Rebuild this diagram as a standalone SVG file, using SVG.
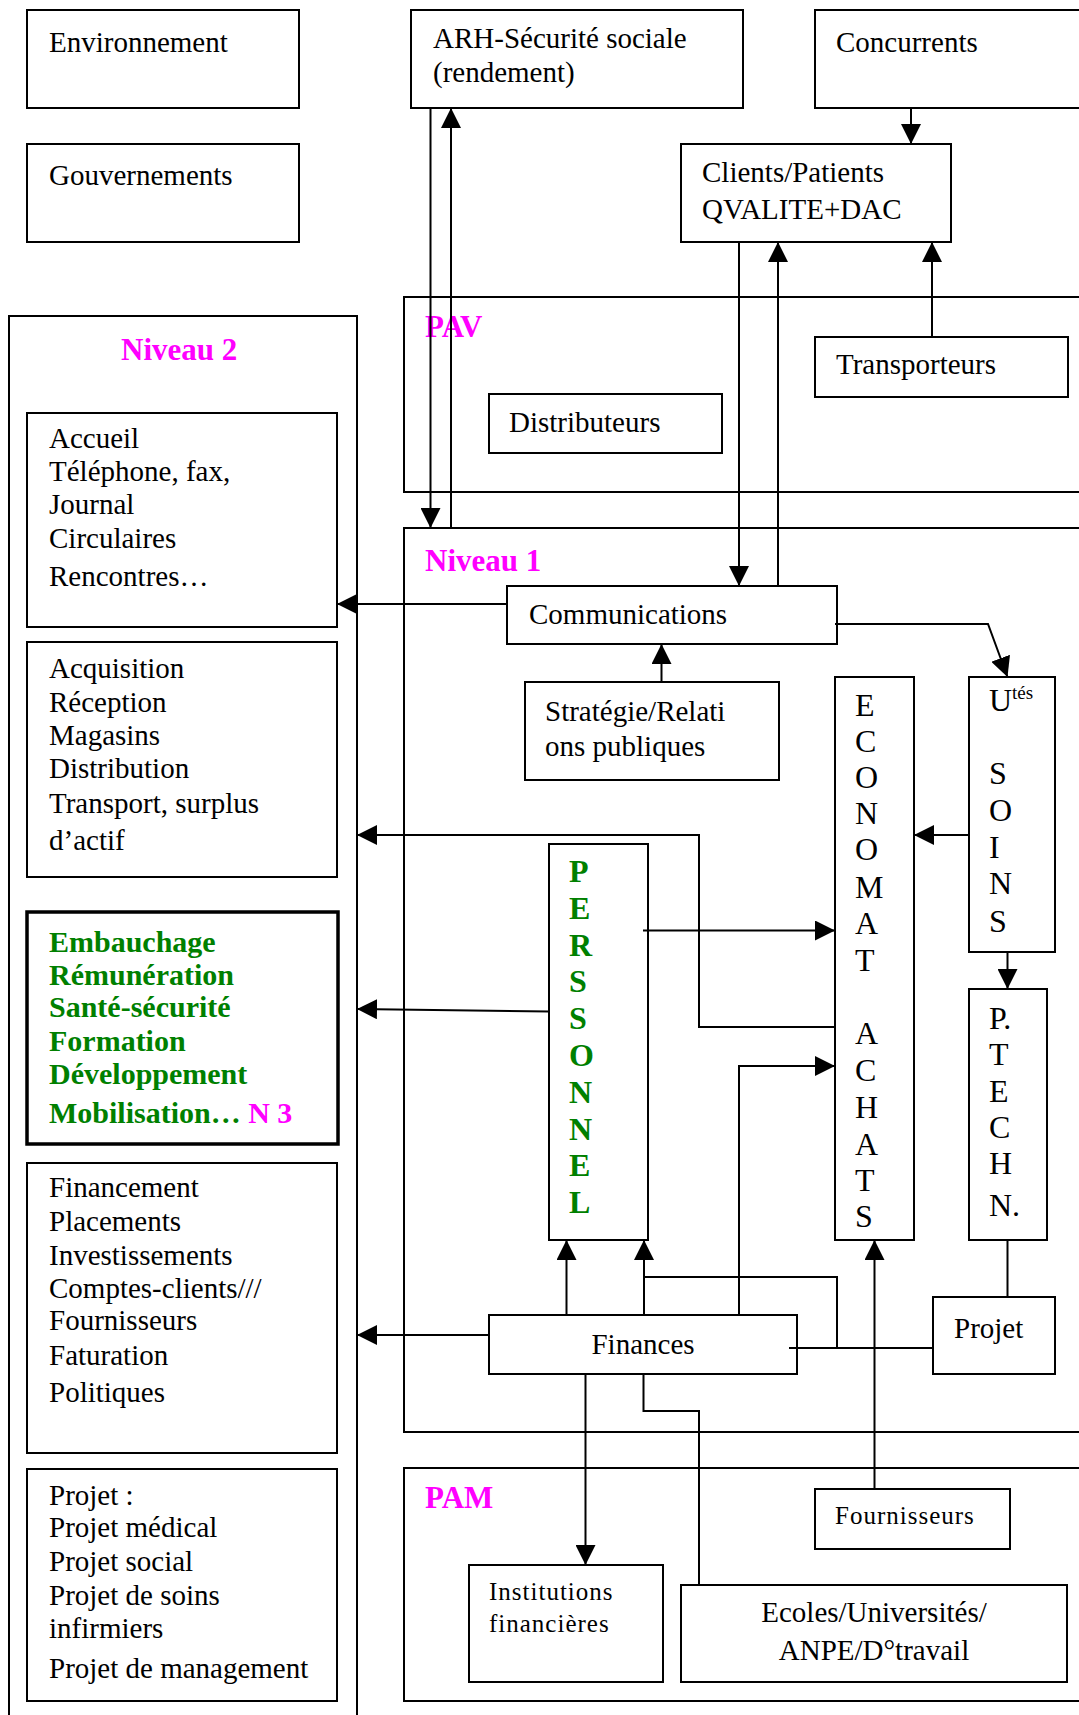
<svg xmlns="http://www.w3.org/2000/svg" width="1079" height="1715" viewBox="0 0 1079 1715">
<style>
  .box { fill: #ffffff; stroke: #000000; stroke-width: 2; }
  .cont { fill: none; stroke: #000000; stroke-width: 2; }
  .thick { fill: #ffffff; stroke: #000000; stroke-width: 3.5; }
  .t { font-family: "Liberation Serif", "Times New Roman", serif; font-size: 29px; fill: #000000; }
  .ts { font-family: "Liberation Serif", "Times New Roman", serif; font-size: 25px; letter-spacing: 1px; fill: #000000; }
  .v { font-family: "Liberation Serif", "Times New Roman", serif; font-size: 32px; fill: #000000; }
  .vg { font-family: "Liberation Serif", "Times New Roman", serif; font-size: 32px; font-weight: bold; fill: #008000; }
  .g { font-family: "Liberation Serif", "Times New Roman", serif; font-size: 30px; font-weight: bold; fill: #008000; }
  .m { font-family: "Liberation Serif", "Times New Roman", serif; font-size: 31px; font-weight: bold; fill: #ff00ff; }
  .sup { font-family: "Liberation Serif", "Times New Roman", serif; font-size: 19px; fill: #000000; }
  .c { fill: none; stroke: #000000; stroke-width: 2; }
  .a { fill: none; stroke: #000000; stroke-width: 2; marker-end: url(#arr); }
</style>
<defs>
  <marker id="arr" markerUnits="userSpaceOnUse" markerWidth="20" markerHeight="20" refX="20" refY="10" orient="auto">
    <path d="M0,0 L20,10 L0,20 z" fill="#000000"/>
  </marker>
</defs>
<rect width="1079" height="1715" fill="#ffffff"/>

<!-- containers -->
<g id="niveau2">
  <rect class="cont" x="9" y="316" width="348" height="1420"/>
  <text class="m" x="121" y="360">Niveau 2</text>
</g>
<g id="pav">
  <rect class="cont" x="404" y="297" width="700" height="195"/>
  <text class="m" x="425" y="337">PAV</text>
</g>
<g id="niveau1">
  <rect class="cont" x="404" y="528" width="700" height="904"/>
  <text class="m" x="425" y="571">Niveau 1</text>
</g>
<g id="pam">
  <rect class="cont" x="404" y="1468" width="700" height="233"/>
  <text class="m" x="425" y="1508">PAM</text>
</g>

<!-- top nodes -->
<g id="environnement">
  <rect class="box" x="27" y="10" width="272" height="98"/>
  <text class="t" x="49" y="52">Environnement</text>
</g>
<g id="gouvernements">
  <rect class="box" x="27" y="144" width="272" height="98"/>
  <text class="t" x="49" y="185">Gouvernements</text>
</g>
<g id="arh">
  <rect class="box" x="411" y="10" width="332" height="98"/>
  <text class="t" x="433" y="48">ARH-Sécurité sociale</text>
  <text class="t" x="433" y="82">(rendement)</text>
</g>
<g id="concurrents">
  <rect class="box" x="815" y="10" width="300" height="98"/>
  <text class="t" x="836" y="52">Concurrents</text>
</g>
<g id="clients">
  <rect class="box" x="681" y="144" width="270" height="98"/>
  <text class="t" x="702" y="182">Clients/Patients</text>
  <text class="t" x="702" y="219">QVALITE+DAC</text>
</g>
<g id="distributeurs">
  <rect class="box" x="489" y="394" width="233" height="59"/>
  <text class="t" x="509" y="432">Distributeurs</text>
</g>
<g id="transporteurs">
  <rect class="box" x="815" y="337" width="253" height="60"/>
  <text class="t" x="836" y="374">Transporteurs</text>
</g>

<!-- Niveau 2 nodes -->
<g id="accueil">
  <rect class="box" x="27" y="413" width="310" height="214"/>
  <text class="t" x="49" y="448">Accueil</text>
  <text class="t" x="49" y="481">Téléphone, fax,</text>
  <text class="t" x="49" y="514">Journal</text>
  <text class="t" x="49" y="548">Circulaires</text>
  <text class="t" x="49" y="586">Rencontres…</text>
</g>
<g id="acquisition">
  <rect class="box" x="27" y="642" width="310" height="235"/>
  <text class="t" x="49" y="678">Acquisition</text>
  <text class="t" x="49" y="712">Réception</text>
  <text class="t" x="49" y="745">Magasins</text>
  <text class="t" x="49" y="778">Distribution</text>
  <text class="t" x="49" y="813">Transport, surplus</text>
  <text class="t" x="49" y="850">d’actif</text>
</g>
<g id="embauchage">
  <rect class="thick" x="27" y="912" width="311" height="232"/>
  <text class="g" x="49" y="952">Embauchage</text>
  <text class="g" x="49" y="985">Rémunération</text>
  <text class="g" x="49" y="1017">Santé-sécurité</text>
  <text class="g" x="49" y="1051">Formation</text>
  <text class="g" x="49" y="1084">Développement</text>
  <text class="g" x="49" y="1123">Mobilisation… <tspan fill="#ff00ff">N 3</tspan></text>
</g>
<g id="financement">
  <rect class="box" x="27" y="1163" width="310" height="290"/>
  <text class="t" x="49" y="1197">Financement</text>
  <text class="t" x="49" y="1231">Placements</text>
  <text class="t" x="49" y="1265">Investissements</text>
  <text class="t" x="49" y="1298">Comptes-clients///</text>
  <text class="t" x="49" y="1330">Fournisseurs</text>
  <text class="t" x="49" y="1365">Faturation</text>
  <text class="t" x="49" y="1402">Politiques</text>
</g>
<g id="projets">
  <rect class="box" x="27" y="1469" width="310" height="232"/>
  <text class="t" x="49" y="1505">Projet :</text>
  <text class="t" x="49" y="1537">Projet médical</text>
  <text class="t" x="49" y="1571">Projet social</text>
  <text class="t" x="49" y="1605">Projet de soins</text>
  <text class="t" x="49" y="1638">infirmiers</text>
  <text class="t" x="49" y="1678">Projet de management</text>
</g>

<!-- Niveau 1 nodes -->
<g id="communications">
  <rect class="box" x="507" y="586" width="330" height="58"/>
  <text class="t" x="529" y="624">Communications</text>
</g>
<g id="strategie">
  <rect class="box" x="525" y="682" width="254" height="98"/>
  <text class="t" x="545" y="721">Stratégie/Relati</text>
  <text class="t" x="545" y="756">ons publiques</text>
</g>
<g id="personnel">
  <rect class="box" x="549" y="844" width="99" height="396"/>
  <text class="vg" x="569" y="882">P</text>
  <text class="vg" x="569" y="919">E</text>
  <text class="vg" x="569" y="956">R</text>
  <text class="vg" x="569" y="992">S</text>
  <text class="vg" x="569" y="1029">S</text>
  <text class="vg" x="569" y="1066">O</text>
  <text class="vg" x="569" y="1103">N</text>
  <text class="vg" x="569" y="1140">N</text>
  <text class="vg" x="569" y="1176">E</text>
  <text class="vg" x="569" y="1213">L</text>
</g>
<g id="economat">
  <rect class="box" x="835" y="677" width="79" height="563"/>
  <text class="v" x="855" y="716">E</text>
  <text class="v" x="855" y="752">C</text>
  <text class="v" x="855" y="788">O</text>
  <text class="v" x="855" y="824">N</text>
  <text class="v" x="855" y="860">O</text>
  <text class="v" x="855" y="898">M</text>
  <text class="v" x="855" y="934">A</text>
  <text class="v" x="855" y="971">T</text>
  <text class="v" x="855" y="1044">A</text>
  <text class="v" x="855" y="1081">C</text>
  <text class="v" x="855" y="1118">H</text>
  <text class="v" x="855" y="1155">A</text>
  <text class="v" x="855" y="1191">T</text>
  <text class="v" x="855" y="1227">S</text>
</g>
<g id="soins">
  <rect class="box" x="969" y="677" width="86" height="275"/>
  <text class="v" x="989" y="711">U</text>
  <text class="sup" x="1012" y="699">tés</text>
  <text class="v" x="989" y="784">S</text>
  <text class="v" x="989" y="821">O</text>
  <text class="v" x="989" y="858">I</text>
  <text class="v" x="989" y="894">N</text>
  <text class="v" x="989" y="932">S</text>
</g>
<g id="ptechn">
  <rect class="box" x="969" y="989" width="78" height="251"/>
  <text class="v" x="989" y="1029">P.</text>
  <text class="v" x="989" y="1065">T</text>
  <text class="v" x="989" y="1102">E</text>
  <text class="v" x="989" y="1138">C</text>
  <text class="v" x="989" y="1174">H</text>
  <text class="v" x="989" y="1216">N.</text>
</g>
<g id="finances">
  <rect class="box" x="489" y="1315" width="308" height="59"/>
  <text class="t" x="643" y="1354" text-anchor="middle">Finances</text>
</g>
<g id="projet">
  <rect class="box" x="933" y="1297" width="122" height="77"/>
  <text class="t" x="954" y="1338">Projet</text>
</g>

<!-- PAM nodes -->
<g id="fournisseurs">
  <rect class="box" x="815" y="1489" width="195" height="60"/>
  <text class="ts" x="835" y="1524">Fournisseurs</text>
</g>
<g id="institutions">
  <rect class="box" x="469" y="1565" width="194" height="117"/>
  <text class="ts" x="489" y="1600">Institutions</text>
  <text class="ts" x="489" y="1632">financières</text>
</g>
<g id="ecoles">
  <rect class="box" x="681" y="1585" width="386" height="97"/>
  <text class="t" x="874" y="1622" text-anchor="middle">Ecoles/Universités/</text>
  <text class="t" x="874" y="1660" text-anchor="middle">ANPE/D°travail</text>
</g>

<!-- connectors -->
<g id="connectors">
  <path class="a" d="M430.5,108 L430.5,528"/>
  <path class="a" d="M451,528 L451,108"/>
  <path class="a" d="M911,108 L911,144"/>
  <path class="a" d="M739,242 L739,586"/>
  <path class="a" d="M778,586 L778,242"/>
  <path class="a" d="M932,337 L932,242"/>
  <path class="a" d="M507,604 L337,604"/>
  <path class="a" d="M835,624 L988,624 L1007.5,677"/>
  <path class="a" d="M661.5,682 L661.5,644"/>
  <path class="a" d="M969,835 L914,835"/>
  <path class="a" d="M835,1027 L699,1027 L699,835 L357,835"/>
  <path class="a" d="M643,930.5 L835,930.5"/>
  <path class="a" d="M549,1011.5 L357,1009"/>
  <path class="a" d="M1007.5,952 L1007.5,989"/>
  <path class="c" d="M1007.5,1240 L1007.5,1297"/>
  <path class="a" d="M739,1315 L739,1066 L835,1066"/>
  <path class="a" d="M566.5,1315 L566.5,1240"/>
  <path class="a" d="M644,1315 L644,1240"/>
  <path class="c" d="M644,1277 L837,1277 L837,1348"/>
  <path class="c" d="M789,1348 L933,1348"/>
  <path class="a" d="M489,1335 L357,1335"/>
  <path class="a" d="M874.5,1489 L874.5,1240"/>
  <path class="a" d="M585.5,1374 L585.5,1565"/>
  <path class="c" d="M643.5,1374 L643.5,1411 L699,1411 L699,1585"/>
</g>
</svg>
